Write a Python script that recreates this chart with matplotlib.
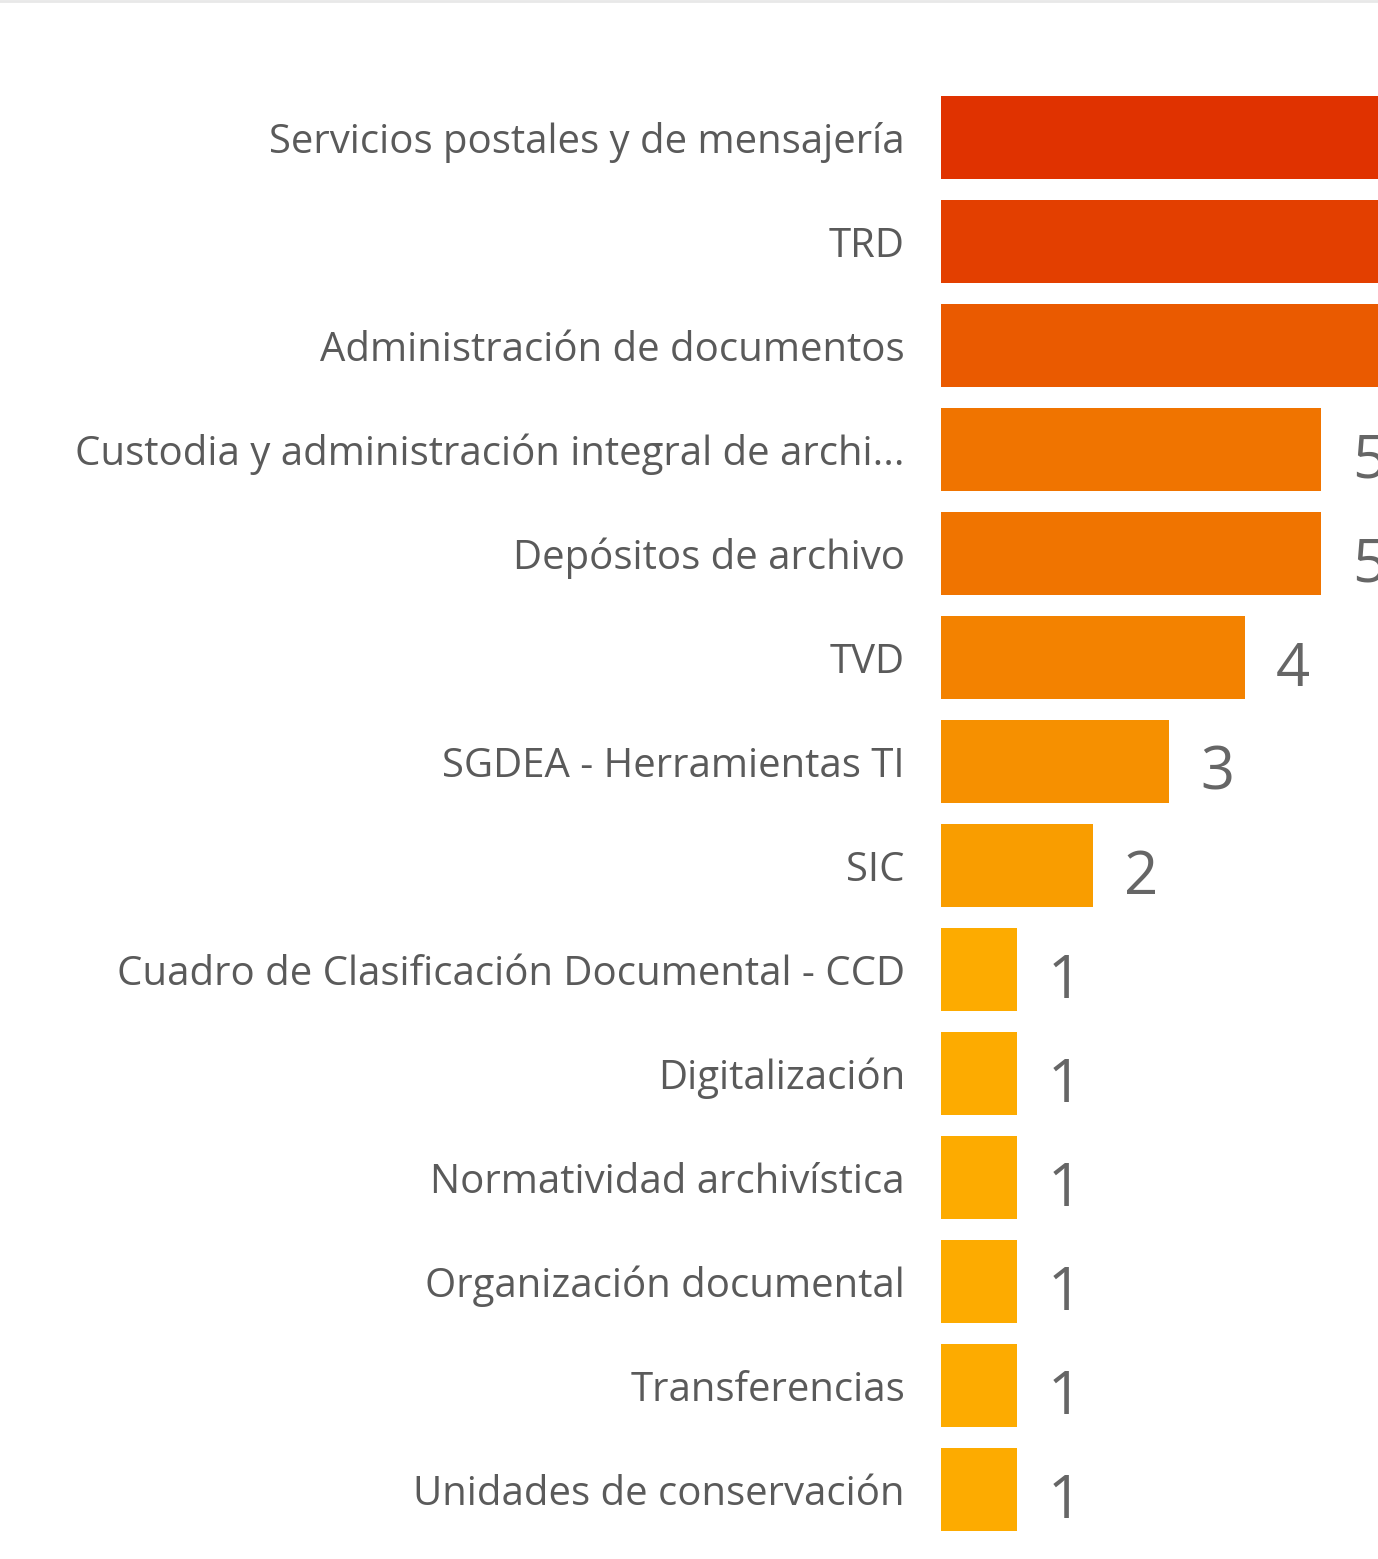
import matplotlib
matplotlib.use("Agg")
import matplotlib.pyplot as plt
from matplotlib.lines import Line2D

categories = [
    "Servicios postales y de mensajería",
    "TRD",
    "Administración de documentos",
    "Custodia y administración integral de archi...",
    "Depósitos de archivo",
    "TVD",
    "SGDEA - Herramientas TI",
    "SIC",
    "Cuadro de Clasificación Documental - CCD",
    "Digitalización",
    "Normatividad archivística",
    "Organización documental",
    "Transferencias",
    "Unidades de conservación",
]
values = [10, 9, 7, 5, 5, 4, 3, 2, 1, 1, 1, 1, 1, 1]
colors = ["#E03200", "#E33F00", "#EA5A00", "#F07400", "#F07400", "#F38200",
          "#F69000", "#F99D00", "#FDAB00", "#FDAB00", "#FDAB00", "#FDAB00",
          "#FDAB00", "#FDAB00"]

W, H = 1378, 1559
dpi = 100
fig = plt.figure(figsize=(W / dpi, H / dpi), dpi=dpi)

left_px, right_px = 941, 1378
top_px, bottom_px = 85.5, 1541.5
ax = fig.add_axes([left_px / W, 1 - bottom_px / H,
                   (right_px - left_px) / W, (bottom_px - top_px) / H])

y = list(range(len(categories)))
ax.barh(y, values, height=0.8, color=colors, clip_on=True)
ax.set_ylim(len(categories) - 0.5, -0.5)
ax.set_xlim(0, (right_px - left_px) / 76.0)

ax.set_yticks(y)
ax.set_yticklabels(categories, fontsize=28.9, color="#5A5A5A", family="Open Sans")
ax.tick_params(axis="y", length=0, pad=26)
ax.tick_params(axis="x", bottom=False, labelbottom=False)
for s in ax.spines.values():
    s.set_visible(False)

for i, v in enumerate(values):
    ax.annotate(str(v), xy=(v, i), xytext=(31, -28), textcoords="offset pixels",
                ha="left", va="baseline", fontsize=43, color="#666666",
                family="Open Sans", annotation_clip=False)

fig.add_artist(Line2D([0, 1], [1 - 1 / H, 1 - 1 / H], transform=fig.transFigure,
                      color="#E8E8E8", linewidth=2))

fig.savefig("out.png", dpi=dpi)
